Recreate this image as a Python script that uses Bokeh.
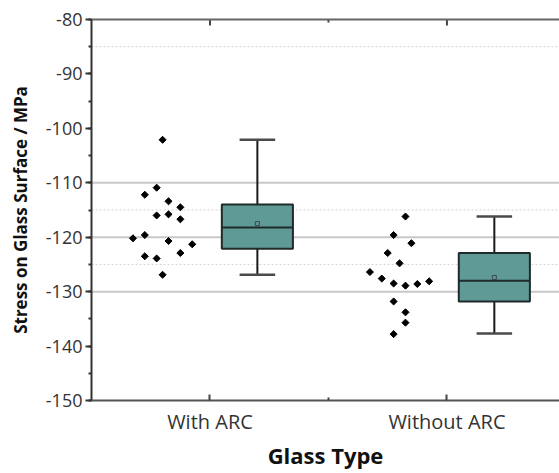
import numpy as np
from bokeh.plotting import figure
from bokeh.models import (Range1d, FixedTicker, SingleIntervalTicker, LinearAxis,
                          Span, ColumnDataSource, PrintfTickFormatter)
from bokeh.embed import file_html
from bokeh.resources import INLINE

# ---------------- data ----------------
categories = ["With ARC", "Without ARC"]

with_arc_values = [-102.1, -110.9, -112.2, -113.4, -114.5, -116.0, -115.8, -116.7,
                   -120.2, -119.6, -120.7, -121.3, -123.5, -123.9, -122.9, -126.9]
with_arc_slot = [0, -0.5, -1.5, 0.5, 1.5, -0.5, 0.5, 1.5,
                 -2.5, -1.5, 0.5, 2.5, -1.5, -0.5, 1.5, 0]

without_arc_values = [-116.2, -119.6, -121.1, -122.9, -124.8, -126.4, -127.6, -128.5,
                      -128.9, -128.6, -128.1, -131.8, -133.8, -135.7, -137.8]
without_arc_slot = [0.5, -0.5, 1, -1, 0, -2.5, -1.5, -0.5,
                    0.5, 1.5, 2.5, -0.5, 0.5, 0.5, -0.5]

box_q1 = [-122.1, -131.8]
box_median = [-118.2, -128.0]
box_q3 = [-114.0, -122.9]
box_lower = [-126.9, -137.7]
box_upper = [-102.1, -116.2]
box_mean = [-117.5, -127.4]

solid_ref = [-110, -120, -130]
dotted_ref = [-85, -115, -125]

Y_MIN, Y_MAX = -150, -80

# ---------------- figure ----------------
FONT = "Open Sans"
p = figure(width=559, height=473, output_backend="svg", toolbar_location=None,
           x_range=Range1d(0.5, 2.475), y_range=Range1d(Y_MIN, Y_MAX),
           min_border_left=91, min_border_right=0, min_border_top=19,
           min_border_bottom=73)
p.outline_line_color = None
p.xgrid.visible = False
p.ygrid.visible = False
p.background_fill_color = "white"

for v in solid_ref:
    p.add_layout(Span(location=v, dimension="width", line_color="#c8c8c8",
                      line_width=2, level="underlay"))
for v in dotted_ref:
    p.add_layout(Span(location=v, dimension="width", line_color="#d2d2d2",
                      line_width=1, line_dash="2 2", level="underlay"))

pos = [i + 1 for i in range(len(categories))]

# scatter (swarm) points
step = 0.05
xs, ys = [], []
for c, vals, slots in [(pos[0], with_arc_values, with_arc_slot),
                       (pos[1], without_arc_values, without_arc_slot)]:
    for v, s in zip(vals, slots):
        xs.append(c - 0.2 + s * step)
        ys.append(v)
p.scatter(xs, ys, marker="square", size=5, angle=np.pi / 4, color="black")

# boxes
bx = [c + 0.2 for c in pos]
src = ColumnDataSource(dict(x=bx, q1=box_q1, q3=box_q3, med=box_median,
                            lo=box_lower, hi=box_upper, mean=box_mean,
                            cl=[c + 0.125 for c in pos], cr=[c + 0.275 for c in pos],
                            bl=[c + 0.05 for c in pos], br=[c + 0.35 for c in pos]))
p.segment(x0="x", x1="x", y0="q3", y1="hi", source=src, line_color="#1a1a1a", line_width=2)
p.segment(x0="x", x1="x", y0="q1", y1="lo", source=src, line_color="#1a1a1a", line_width=2)
p.segment(x0="cl", x1="cr", y0="hi", y1="hi", source=src, line_color="#4a4a4a", line_width=2.5)
p.segment(x0="cl", x1="cr", y0="lo", y1="lo", source=src, line_color="#4a4a4a", line_width=2.5)
p.vbar(x="x", width=0.3, top="q3", bottom="q1", source=src,
       fill_color="#5f9a96", line_color="#1f2a2a", line_width=2)
p.segment(x0="bl", x1="br", y0="med", y1="med", source=src, line_color="#1f2a2a", line_width=2)
p.scatter(x="x", y="mean", source=src, marker="square", size=4,
          fill_color=None, line_color="#3a4a4a", line_width=1)

# top-edge tick marks (major at categories, minor between them)
tick_len = 6 / 5.44
p.segment(x0=pos, x1=pos, y0=[Y_MAX] * len(pos), y1=[Y_MAX - tick_len] * len(pos),
          line_color="#444444", line_width=2)
p.segment(x0=[1.5], x1=[1.5], y0=[Y_MAX], y1=[Y_MAX - tick_len / 2],
          line_color="#444444", line_width=2)

# axes
xa = p.xaxis[0]
xa.ticker = FixedTicker(ticks=pos, minor_ticks=[1.5])
xa.major_label_overrides = {c: n for c, n in zip(pos, categories)}
xa.axis_line_color = "#555555"
xa.axis_line_width = 2
xa.major_tick_in = 6
xa.major_tick_out = 0
xa.minor_tick_in = 3
xa.minor_tick_out = 0
xa.major_tick_line_width = 2
xa.major_tick_line_color = "#444444"
xa.minor_tick_line_color = "#444444"
xa.minor_tick_line_width = 2
xa.major_label_text_font = FONT
xa.major_label_text_font_size = "20px"
xa.major_label_text_color = "#333333"
xa.major_label_standoff = 7
xa.axis_label = "Glass Type"
xa.axis_label_text_font = FONT
xa.axis_label_text_font_size = "22px"
xa.axis_label_text_font_style = "bold"
xa.axis_label_text_color = "#111111"
xa.axis_label_standoff = 2

ya = p.yaxis[0]
ya.ticker = SingleIntervalTicker(interval=10, num_minor_ticks=2)
ya.formatter = PrintfTickFormatter(format="%d")
ya.axis_line_color = "#333333"
ya.axis_line_width = 2
ya.major_tick_out = 6
ya.major_tick_in = 0
ya.minor_tick_out = 3
ya.minor_tick_in = 0
ya.major_tick_line_width = 2
ya.minor_tick_line_width = 2
ya.major_tick_line_color = "#333333"
ya.minor_tick_line_color = "#333333"
ya.major_label_text_font = FONT
ya.major_label_text_font_size = "18px"
ya.major_label_text_color = "#333333"
ya.major_label_standoff = 3
ya.axis_label = "Stress on Glass Surface / MPa"
ya.axis_label_text_font = FONT
ya.axis_label_text_font_size = "17px"
ya.axis_label_text_font_style = "bold"
ya.axis_label_text_color = "#111111"
ya.axis_label_standoff = 11

top = LinearAxis(ticker=FixedTicker(ticks=[]))
top.axis_line_color = "#666666"
top.axis_line_width = 2
top.major_tick_in = 0
top.major_tick_out = 0
top.minor_tick_in = 0
top.minor_tick_out = 0
top.major_label_standoff = 0
p.add_layout(top, "above")

open("out.html", "w").write(file_html(p, INLINE))
